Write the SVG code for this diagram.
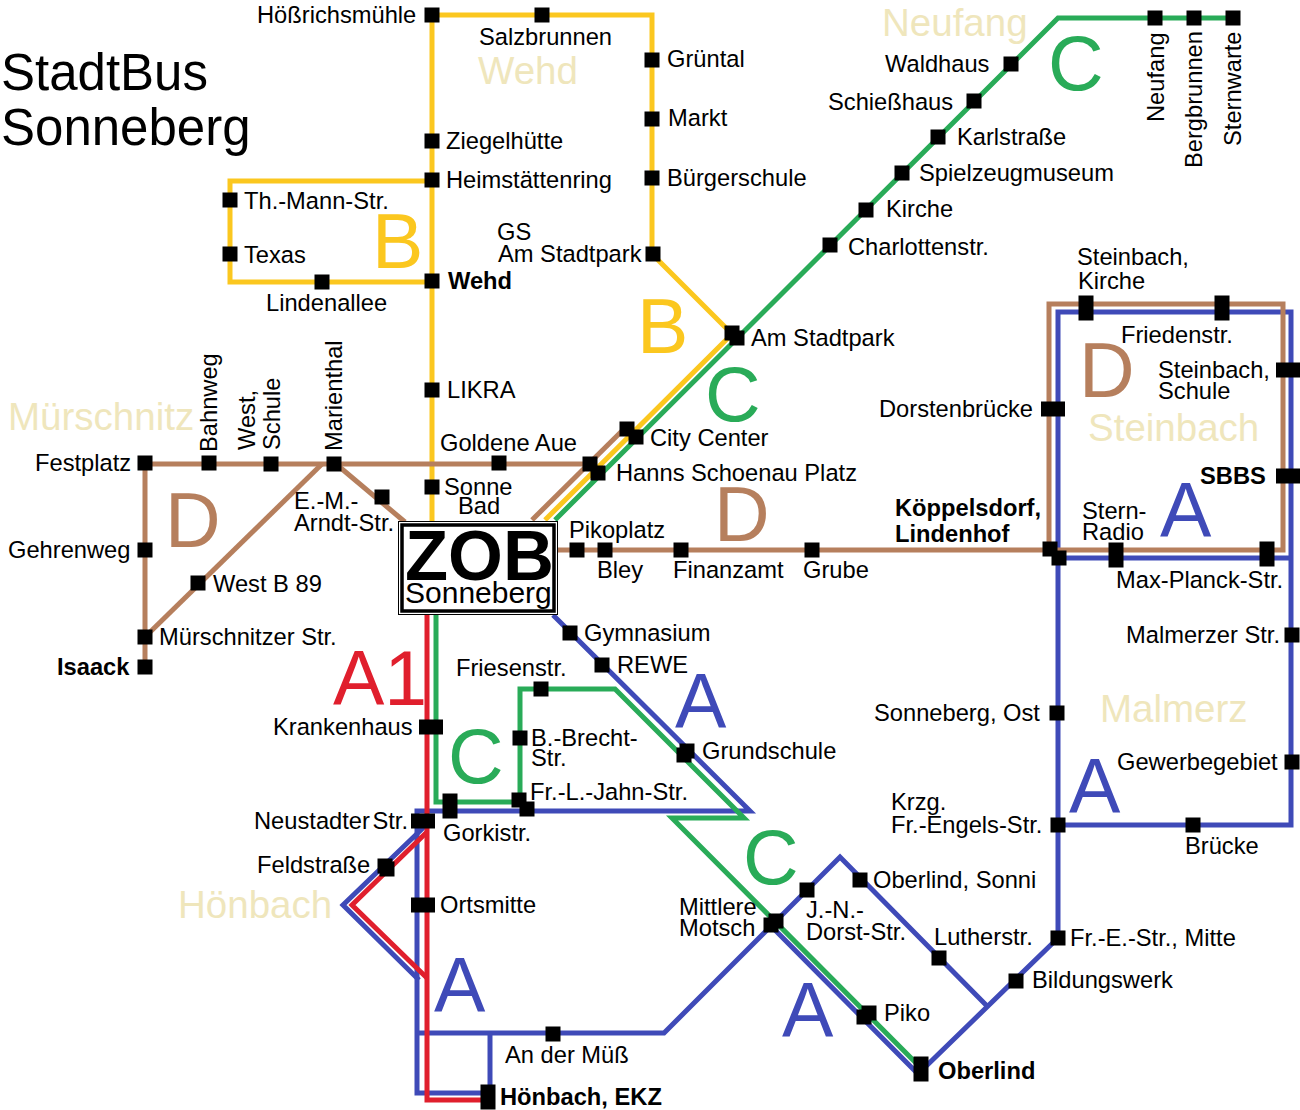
<svg xmlns="http://www.w3.org/2000/svg" width="1300" height="1110" viewBox="0 0 1300 1110">
<style>
text{font-family:"Liberation Sans",Arial,sans-serif;font-size:23.7px;fill:#000}
.b{font-weight:bold}
.place{font-size:38.5px;fill:#efe6bc}
.big{font-size:77px}
.title{font-size:51px}
.line{fill:none;stroke-width:5;stroke-linejoin:miter}
.A{stroke:#3f4ab8}.A1{stroke:#e01f2d}.Bl{stroke:#fbc71f}.Cl{stroke:#29ab58}.Dl{stroke:#b67f5d}
rect.s{fill:#000}
</style>
<defs>
<rect id="st" class="s" x="-7.5" y="-7.5" width="15" height="15"/>
<rect id="wd" class="s" x="-12" y="-7.5" width="24" height="15"/>
<rect id="tl" class="s" x="-7.5" y="-12.5" width="15" height="25"/>
</defs>
<rect width="1300" height="1110" fill="#fff"/>
<g id="connectors">
<g class="line A">
<path d="M553 615L750 811H417V1093H488"/>
<path d="M424 827L343 905L419 980"/>
<path d="M419 1033H664L840 857L988 1007"/>
<path d="M490 1033V1097"/>
<path d="M773 928L918 1074L1058 938V312H1291V825H1058"/>
<path d="M1058 558H1291"/>
</g>
<g class="line Cl">
<path d="M555 520L1058 18H1233"/>
<path d="M436 615V802H520V689H615L744 818H672L925 1072"/>
</g>
<g class="line Bl">
<path d="M432 525V15H652V254L732 334L545 520"/>
<path d="M432 181H230V282H432"/>
</g>
<g class="line Dl">
<path d="M145 667V464H590"/>
<path d="M145 637L322 464"/>
<path d="M336 464L405 522"/>
<path d="M532 520L628 425"/>
<path d="M557 550H1049V304H1283V550H1049"/>
</g>
<g class="line A1">
<path d="M427 615V1100H488"/>
<path d="M427 832L352 905L427 978"/>
</g>
</g>
<g id="labels">
<text class="title" x="1" y="90">StadtBus</text>
<text class="title" x="1" y="145">Sonneberg</text>
<text class="place" x="478" y="84">Wehd</text>
<text class="place" x="882" y="36">Neufang</text>
<text class="place" x="8" y="430">Mürschnitz</text>
<text class="place" x="1088" y="441">Steinbach</text>
<text class="place" x="1100" y="722">Malmerz</text>
<text class="place" x="178" y="918">Hönbach</text>
<text class="big" style="fill:#e01f2d" x="333" y="705">A1</text>
<text class="big" style="fill:#3f4ab8" x="1160" y="537">A</text>
<text class="big" style="fill:#3f4ab8" x="1069" y="813">A</text>
<text class="big" style="fill:#3f4ab8" x="675" y="728">A</text>
<text class="big" style="fill:#3f4ab8" x="434" y="1012">A</text>
<text class="big" style="fill:#3f4ab8" x="782" y="1037">A</text>
<text class="big" style="fill:#fbc71f" x="372" y="268">B</text>
<text class="big" style="fill:#fbc71f" x="637" y="353">B</text>
<text class="big" style="fill:#29ab58" x="1048" y="90">C</text>
<text class="big" style="fill:#29ab58" x="705" y="421">C</text>
<text class="big" style="fill:#29ab58" x="448" y="783">C</text>
<text class="big" style="fill:#29ab58" x="743" y="884">C</text>
<text class="big" style="fill:#b67f5d" x="165" y="547">D</text>
<text class="big" style="fill:#b67f5d" x="714" y="541">D</text>
<text class="big" style="fill:#b67f5d" x="1079" y="397">D</text>
</g>
<g id="zob">
<rect x="398.500" y="521.500" width="159" height="93" fill="#fff" stroke="#000"/>
<rect x="402" y="525" width="152" height="86" fill="#fff" stroke="#000" stroke-width="3.500"/>
<text class="b" x="405" y="580" style="font-size:70.5px">ZOB</text>
<text x="405" y="603" style="font-size:30px">Sonneberg</text>
</g>
<g id="s-hoessrichsmuehle"><use href="#st" x="432" y="15"/><text x="257" y="23">Hößrichsmühle</text></g>
<g id="s-salzbrunnen"><use href="#st" x="542" y="15"/><text x="479" y="45">Salzbrunnen</text></g>
<g id="s-gruental"><use href="#st" x="652" y="60"/><text x="667" y="67">Grüntal</text></g>
<g id="s-markt"><use href="#st" x="652" y="119"/><text x="668" y="126">Markt</text></g>
<g id="s-buergerschule"><use href="#st" x="652" y="178"/><text x="667" y="186">Bürgerschule</text></g>
<g id="s-gs"><use href="#st" x="653" y="254"/><text x="497" y="240">GS</text><text x="498" y="262">Am Stadtpark</text></g>
<g id="s-ziegelhuette"><use href="#st" x="432" y="141"/><text x="446" y="149">Ziegelhütte</text></g>
<g id="s-heimstaetten"><use href="#st" x="432" y="180"/><text x="446" y="188">Heimstättenring</text></g>
<g id="s-thmann"><use href="#st" x="230" y="200"/><text x="244" y="209">Th.-Mann-Str.</text></g>
<g id="s-texas"><use href="#st" x="230" y="254"/><text x="244" y="263">Texas</text></g>
<g id="s-lindenallee"><use href="#st" x="322" y="282"/><text x="266" y="311">Lindenallee</text></g>
<g id="s-wehd"><use href="#st" x="432" y="281"/><text class="b" x="448" y="289">Wehd</text></g>
<g id="s-likra"><use href="#st" x="432" y="390"/><text x="447" y="398">LIKRA</text></g>
<g id="s-sonnebad"><use href="#st" x="432" y="487"/><text x="444" y="495">Sonne</text><text x="458" y="514">Bad</text></g>
<g id="s-goldeneaue"><use href="#st" x="499" y="463"/><text x="440" y="451">Goldene Aue</text></g>
<g id="s-festplatz"><use href="#st" x="145" y="463"/><text x="35" y="471">Festplatz</text></g>
<g id="s-bahnweg"><use href="#st" x="209" y="463"/><text transform="translate(217 452) rotate(-90)">Bahnweg</text></g>
<g id="s-west"><use href="#st" x="271" y="464"/><text transform="translate(255 450) rotate(-90)">West,</text><text transform="translate(280 450) rotate(-90)">Schule</text></g>
<g id="s-marienthal"><use href="#st" x="334" y="464"/><text transform="translate(342 451) rotate(-90)">Marienthal</text></g>
<g id="s-arndt"><use href="#st" x="382" y="497"/><text x="294" y="509">E.-M.-</text><text x="294" y="531">Arndt-Str.</text></g>
<g id="s-gehrenweg"><use href="#st" x="145" y="550"/><text x="8" y="558">Gehrenweg</text></g>
<g id="s-westb89"><use href="#st" x="198" y="583"/><text x="213" y="592">West B 89</text></g>
<g id="s-muerschnitzer"><use href="#st" x="145" y="637"/><text x="159" y="645">Mürschnitzer Str.</text></g>
<g id="s-isaack"><use href="#st" x="145" y="667"/><text class="b" x="57" y="675">Isaack</text></g>
<g id="s-pikoplatz"><use href="#st" x="577" y="550"/><text x="569" y="538">Pikoplatz</text></g>
<g id="s-bley"><use href="#st" x="605" y="550"/><text x="597" y="578">Bley</text></g>
<g id="s-finanzamt"><use href="#st" x="681" y="550"/><text x="673" y="578">Finanzamt</text></g>
<g id="s-grube"><use href="#st" x="812" y="550"/><text x="803" y="578">Grube</text></g>
<g id="s-koeppelsdorf"><use href="#st" x="1050" y="549"/><use href="#st" x="1059" y="558"/><text class="b" x="895" y="516">Köppelsdorf,</text><text class="b" x="895" y="542">Lindenhof</text></g>
<g id="s-sternradio"><use href="#tl" x="1116" y="555"/><text x="1082" y="519">Stern-</text><text x="1082" y="540">Radio</text></g>
<g id="s-maxplanck"><use href="#tl" x="1267" y="554"/><text x="1116" y="588">Max-Planck-Str.</text></g>
<g id="s-dorstenbruecke"><use href="#wd" x="1053" y="409"/><text x="879" y="417">Dorstenbrücke</text></g>
<g id="s-steinbachkirche"><use href="#tl" x="1086" y="308"/><text x="1077" y="265">Steinbach,</text><text x="1078" y="289">Kirche</text></g>
<g id="s-friedenstr"><use href="#tl" x="1222" y="308"/><text x="1121" y="343">Friedenstr.</text></g>
<g id="s-steinbachschule"><use href="#wd" x="1288" y="370"/><text x="1158" y="378">Steinbach,</text><text x="1158" y="399">Schule</text></g>
<g id="s-sbbs"><use href="#wd" x="1288" y="476"/><text class="b" x="1200" y="484">SBBS</text></g>
<g id="s-malmerzer"><use href="#st" x="1292" y="635"/><text x="1126" y="643">Malmerzer Str.</text></g>
<g id="s-gewerbegebiet"><use href="#st" x="1292" y="762"/><text x="1117" y="770">Gewerbegebiet</text></g>
<g id="s-bruecke"><use href="#st" x="1193" y="825"/><text x="1185" y="854">Brücke</text></g>
<g id="s-krzg"><use href="#st" x="1058" y="825"/><text x="891" y="810">Krzg.</text><text x="891" y="833">Fr.-Engels-Str.</text></g>
<g id="s-ost"><use href="#st" x="1057" y="713"/><text x="874" y="721">Sonneberg, Ost</text></g>
<g id="s-frestr"><use href="#st" x="1058" y="938"/><text x="1070" y="946">Fr.-E.-Str., Mitte</text></g>
<g id="s-bildungswerk"><use href="#st" x="1016" y="981"/><text x="1032" y="988">Bildungswerk</text></g>
<g id="s-oberlind"><use href="#tl" x="921" y="1069"/><text class="b" x="938" y="1079">Oberlind</text></g>
<g id="s-piko"><use href="#st" x="869" y="1013"/><use href="#st" x="864" y="1017"/><text x="884" y="1021">Piko</text></g>
<g id="s-lutherstr"><use href="#st" x="939" y="958"/><text x="934" y="945">Lutherstr.</text></g>
<g id="s-sonni"><use href="#st" x="860" y="880"/><text x="873" y="888">Oberlind, Sonni</text></g>
<g id="s-dorst"><use href="#st" x="807" y="890"/><text x="806" y="918">J.-N.-</text><text x="806" y="940">Dorst-Str.</text></g>
<g id="s-motsch"><use href="#st" x="776" y="921"/><use href="#st" x="771" y="925"/><text x="679" y="915">Mittlere</text><text x="679" y="936">Motsch</text></g>
<g id="s-grundschule"><use href="#st" x="687" y="751"/><use href="#st" x="684" y="755"/><text x="702" y="759">Grundschule</text></g>
<g id="s-rewe"><use href="#st" x="602" y="665"/><text x="617" y="673">REWE</text></g>
<g id="s-gymnasium"><use href="#st" x="570" y="633"/><text x="584" y="641">Gymnasium</text></g>
<g id="s-friesenstr"><use href="#st" x="541" y="689"/><text x="456" y="676">Friesenstr.</text></g>
<g id="s-brecht"><use href="#st" x="520" y="738"/><text x="531" y="746">B.-Brecht-</text><text x="531" y="766">Str.</text></g>
<g id="s-jahn"><use href="#st" x="519" y="800"/><use href="#st" x="527" y="809"/><text x="530" y="800">Fr.-L.-Jahn-Str.</text></g>
<g id="s-gorkistr"><use href="#tl" x="450" y="806"/><text x="443" y="841">Gorkistr.</text></g>
<g id="s-krankenhaus"><use href="#wd" x="431" y="727"/><text x="273" y="735">Krankenhaus</text></g>
<g id="s-neustadter"><use href="#wd" x="423" y="821"/><text x="254" y="829" style="word-spacing:-4px">Neustadter Str.</text></g>
<g id="s-feldstrasse"><use href="#st" x="385" y="866"/><use href="#st" x="387" y="869"/><text x="257" y="873">Feldstraße</text></g>
<g id="s-ortsmitte"><use href="#wd" x="423" y="905"/><text x="440" y="913">Ortsmitte</text></g>
<g id="s-muess"><use href="#st" x="553" y="1034"/><text x="505" y="1063">An der Müß</text></g>
<g id="s-hoenbach"><use href="#tl" x="488" y="1097"/><text class="b" x="500" y="1105">Hönbach, EKZ</text></g>
<g id="s-hanns"><use href="#st" x="590" y="464"/><use href="#st" x="598" y="473"/><text x="616" y="481">Hanns Schoenau Platz</text></g>
<g id="s-city"><use href="#st" x="627" y="429"/><use href="#st" x="636" y="437"/><text x="650" y="446">City Center</text></g>
<g id="s-amstadtpark"><use href="#st" x="732" y="333"/><use href="#st" x="737" y="338"/><text x="751" y="346">Am Stadtpark</text></g>
<g id="s-charlotten"><use href="#st" x="830" y="245"/><text x="848" y="255">Charlottenstr.</text></g>
<g id="s-kirche"><use href="#st" x="866" y="210"/><text x="886" y="217">Kirche</text></g>
<g id="s-spielzeug"><use href="#st" x="902" y="173"/><text x="919" y="181">Spielzeugmuseum</text></g>
<g id="s-karlstrasse"><use href="#st" x="938" y="137"/><text x="957" y="145">Karlstraße</text></g>
<g id="s-schiesshaus"><use href="#st" x="974" y="101"/><text x="828" y="110">Schießhaus</text></g>
<g id="s-waldhaus"><use href="#st" x="1011" y="64"/><text x="885" y="72">Waldhaus</text></g>
<g id="s-neufang"><use href="#st" x="1155" y="18"/><text transform="translate(1164 122) rotate(-90)">Neufang</text></g>
<g id="s-bergbrunnen"><use href="#st" x="1194" y="18"/><text transform="translate(1202 168) rotate(-90)">Bergbrunnen</text></g>
<g id="s-sternwarte"><use href="#st" x="1233" y="18"/><text transform="translate(1241 146) rotate(-90)">Sternwarte</text></g>
</svg>
